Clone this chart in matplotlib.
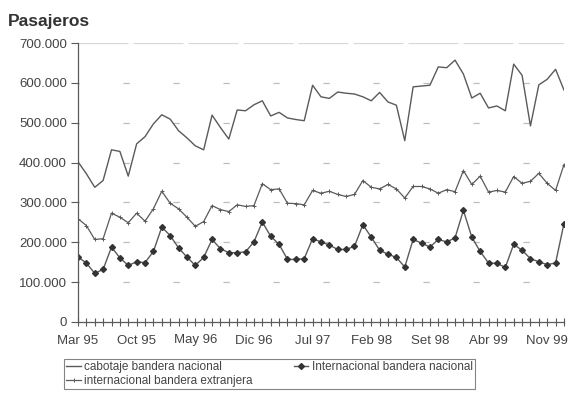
import numpy as np
import matplotlib
matplotlib.use('Agg')
import matplotlib.pyplot as plt

# data (monthly, Mar 95 - Jan 00)
months = ['Ene', 'Feb', 'Mar', 'Abr', 'May', 'Jun', 'Jul', 'Ago', 'Set', 'Oct', 'Nov', 'Dic']
start_month, start_year, n_points = 2, 95, 59

cabotaje = [402, 372, 338, 355, 432, 428, 366, 447, 465, 497, 520, 509, 480, 462, 442, 432,
            519, 488, 459, 532, 530, 545, 555, 517, 526, 512, 508, 505, 594, 565, 561, 577,
            574, 572, 565, 555, 576, 552, 544, 455, 590, 592, 594, 640, 638, 657, 622, 562,
            574, 537, 542, 530, 647, 619, 492, 595, 609, 634, 582]
intl_nacional = [163, 148, 122, 132, 188, 161, 142, 151, 149, 177, 238, 217, 186, 163, 142, 162,
                 207, 184, 174, 174, 176, 201, 251, 215, 195, 157, 157, 159, 209, 201, 193, 182,
                 182, 190, 244, 213, 180, 170, 162, 138, 207, 198, 188, 207, 201, 211, 280, 213,
                 177, 148, 147, 137, 195, 180, 159, 151, 144, 148, 247]
intl_extranjera = [259, 242, 207, 209, 273, 263, 249, 273, 253, 284, 328, 298, 284, 263, 240, 252,
                   292, 282, 277, 294, 290, 292, 347, 332, 334, 298, 297, 294, 330, 323, 328, 320,
                   315, 320, 355, 338, 334, 345, 334, 311, 340, 340, 334, 323, 332, 327, 380, 345,
                   366, 326, 330, 326, 365, 348, 353, 373, 348, 330, 395]

labels = []
for i in range(n_points):
    m = (start_month + i) % 12
    y = (start_year + (start_month + i) // 12) % 100
    labels.append(months[m] + ' ' + '%02d' % y)

x = np.arange(n_points)
cab = np.array(cabotaje) * 1000
nac = np.array(intl_nacional) * 1000
ext = np.array(intl_extranjera) * 1000

# plot
plt.rcParams['font.family'] = ['Liberation Sans', 'DejaVu Sans']
fig = plt.figure(figsize=(5.82, 4.0), dpi=100)
ax = fig.add_axes([0.134, 0.195, 0.835, 0.6975])

grey = '#5a5a5a'
for v in range(100000, 700001, 100000):
    if v < 700000:
        ax.axhline(v, color='#bdbdbd', lw=0.9, ls=(4, (5, 35)), zorder=0)
    else:
        ax.axhline(v, color='#d8d8d8', lw=0.9, ls=(0, (40, 4)), zorder=0)

l1, = ax.plot(x, cab, color=grey, lw=1.0, label='cabotaje bandera nacional')
l2, = ax.plot(x, nac, color=grey, lw=1.0, marker='D', ms=3, mfc='#333333', mec='#333333',
              label='Internacional bandera nacional')
l3, = ax.plot(x, ext, color=grey, lw=0.9, marker='+', ms=3.5, mew=0.7,
              label='internacional bandera extranjera')

ax.set_xlim(0, n_points - 1)
ax.set_ylim(0, 700000)
ax.set_yticks(range(0, 700001, 100000))
ax.set_yticklabels(['0' if v == 0 else '{:,}'.format(v).replace(',', '.') for v in range(0, 700001, 100000)])
ax.set_xticks(x, minor=True)
ax.set_xticks(x[::7])
ax.set_xticklabels(labels[::7])
ax.tick_params(axis='x', which='both', direction='inout', length=6, width=0.8, color=grey)
ax.tick_params(axis='x', which='major', labelsize=9.5, labelcolor='#444444', pad=6)
ax.tick_params(axis='y', direction='out', length=5, width=0.8, color=grey, labelsize=9.5,
               labelcolor='#444444', pad=3)

for s in ['top', 'right']:
    ax.spines[s].set_visible(False)
for s in ['left', 'bottom']:
    ax.spines[s].set_color(grey)
    ax.spines[s].set_linewidth(0.9)

fig.text(0.014, 0.935, 'Pasajeros', fontsize=12.5, fontweight='bold', color='#333333')

leg = fig.legend([l1, l3, l2], [l1.get_label(), l3.get_label(), l2.get_label()], ncol=2,
                 loc='lower left', bbox_to_anchor=(0.1, 0.012), fontsize=8.5, frameon=True,
                 fancybox=False, edgecolor='#666666', handlelength=1.2, handletextpad=0.3,
                 columnspacing=3.5, borderpad=0.2, labelspacing=0.15)
leg.get_frame().set_linewidth(0.8)
for t in leg.get_texts():
    t.set_color('#444444')

fig.savefig('out.png', dpi=100, facecolor='white')
